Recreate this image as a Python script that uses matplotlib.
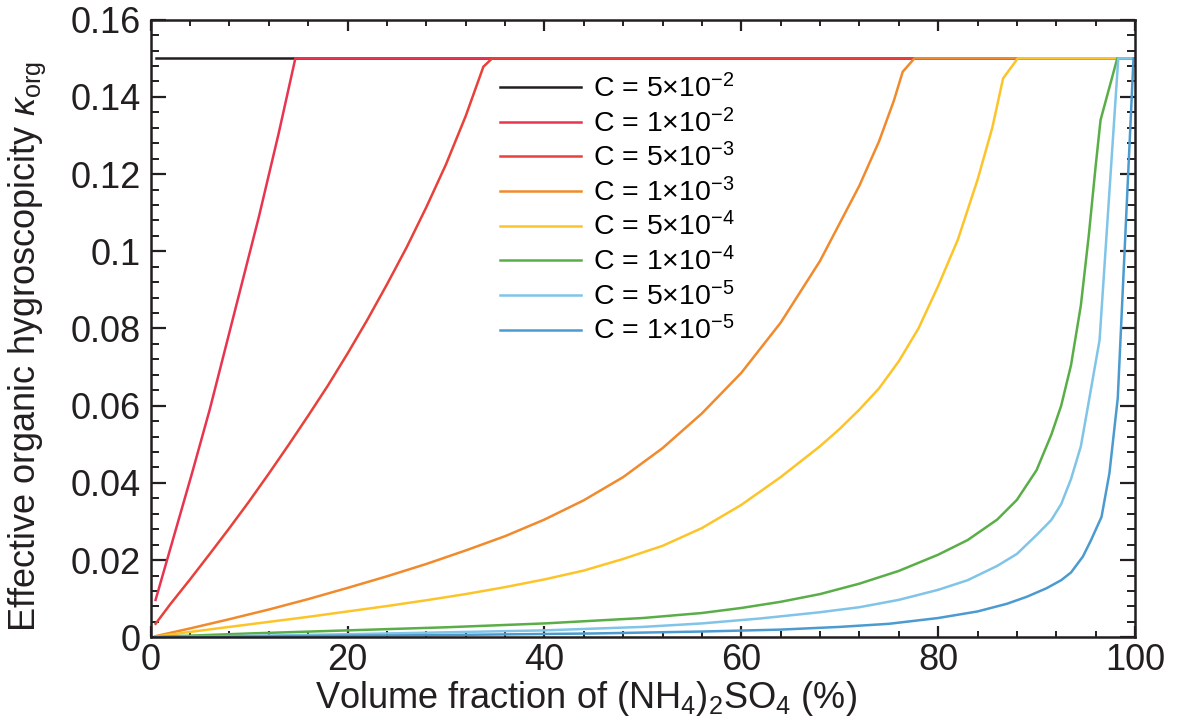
import numpy as np
import matplotlib
matplotlib.use("Agg")
import matplotlib.pyplot as plt
from matplotlib.ticker import MultipleLocator

plt.rcParams['font.family'] = ['Liberation Sans', 'DejaVu Sans']
plt.rcParams['mathtext.fontset'] = 'custom'
plt.rcParams['mathtext.rm'] = 'Liberation Sans'
plt.rcParams['mathtext.it'] = 'Liberation Sans:italic'
plt.rcParams['mathtext.bf'] = 'Liberation Sans:bold'

# kappa_org vs (NH4)2SO4 volume fraction, one curve per solubility C
labels = [r'C = 5$\times$10$^{-2}$', r'C = 1$\times$10$^{-2}$',
          r'C = 5$\times$10$^{-3}$', r'C = 1$\times$10$^{-3}$',
          r'C = 5$\times$10$^{-4}$', r'C = 1$\times$10$^{-4}$',
          r'C = 5$\times$10$^{-5}$', r'C = 1$\times$10$^{-5}$']
colors = ['#231f20', '#e8344f', '#e8413a', '#f08a2c',
          '#fdc42a', '#5aae48', '#80c4e8', '#4b9bd0']

x_5e2 = [0.5, 100]
k_5e2 = [0.15, 0.15]

x_1e2 = [0.5, 2.0, 4.2, 6.0, 7.8, 9.5, 11.0, 13.0, 14.7, 100]
k_1e2 = [0.0097, 0.023, 0.0425, 0.059, 0.077, 0.094, 0.109, 0.1305, 0.15, 0.15]

x_5e3 = [0.5, 2, 4, 6, 8, 10, 12, 14, 16, 18, 20, 22, 24, 26, 28, 30, 32,
         33.8, 34.7, 100]
k_5e3 = [0.0035, 0.0086, 0.0150, 0.0216, 0.0283, 0.0352, 0.0424, 0.0498,
         0.0574, 0.0652, 0.0735, 0.0822, 0.0914, 0.1010, 0.1114, 0.1225,
         0.1350, 0.1478, 0.15, 0.15]

x_1e3 = [0.5, 4, 8, 12, 16, 20, 24, 28, 32, 36, 40, 44, 48, 52, 56, 60, 64,
         68, 72, 74, 75.5, 76.4, 77.6, 100]
k_1e3 = [0.0003, 0.0023, 0.0047, 0.0072, 0.0099, 0.0128, 0.0158, 0.0190,
         0.0225, 0.0262, 0.0305, 0.0355, 0.0415, 0.0490, 0.0580, 0.0685,
         0.0815, 0.0975, 0.1170, 0.1285, 0.1390, 0.1465, 0.15, 0.15]

x_5e4 = [0.5, 4, 8, 12, 16, 20, 24, 28, 32, 36, 40, 44, 48, 52, 56, 60, 64,
         68, 70, 72, 74, 76, 78, 80, 82, 84, 85.5, 86.6, 88.1, 100]
k_5e4 = [0.0002, 0.0014, 0.0027, 0.0040, 0.0053, 0.0067, 0.0081, 0.0096,
         0.0112, 0.0130, 0.0150, 0.0173, 0.0203, 0.0237, 0.0283, 0.0343,
         0.0415, 0.0495, 0.0540, 0.0590, 0.0645, 0.0715, 0.0800, 0.0910,
         0.1030, 0.1185, 0.1320, 0.1448, 0.15, 0.15]

x_1e4 = [0.5, 10, 20, 30, 40, 50, 56, 60, 64, 68, 72, 76, 80, 83, 86, 88,
         90, 91.5, 92.5, 93.5, 94.5, 95.3, 96.0, 96.5, 98.2, 100]
k_1e4 = [0.0001, 0.0010, 0.0018, 0.0026, 0.0036, 0.0050, 0.0063, 0.0076,
         0.0092, 0.0112, 0.0139, 0.0172, 0.0214, 0.0252, 0.0305, 0.0356,
         0.0433, 0.0525, 0.0600, 0.0705, 0.0860, 0.1040, 0.1220, 0.1340,
         0.15, 0.15]

x_5e5 = [0.5, 10, 20, 30, 40, 50, 56, 62, 68, 72, 76, 80, 83, 86, 88, 90,
         91.5, 92.5, 93.5, 94.5, 95.3, 96.4, 98.3, 100]
k_5e5 = [0.0000, 0.0004, 0.0008, 0.0013, 0.0018, 0.0027, 0.0036, 0.0049,
         0.0065, 0.0078, 0.0097, 0.0123, 0.0148, 0.0185, 0.0216, 0.0265,
         0.0304, 0.0345, 0.0410, 0.0495, 0.0610, 0.0770, 0.15, 0.15]

x_1e5 = [0.5, 15, 30, 45, 56, 64, 70, 75, 80, 84, 87, 89, 91, 92.5, 93.5,
         94.7, 95.5, 96.6, 97.4, 98.25, 99.85, 100]
k_1e5 = [0.0000, 0.0003, 0.0006, 0.0010, 0.0015, 0.0020, 0.0027, 0.0035,
         0.0050, 0.0067, 0.0087, 0.0105, 0.0127, 0.0148, 0.0168, 0.0209,
         0.0250, 0.0312, 0.0425, 0.0620, 0.15, 0.15]

xs = [x_5e2, x_1e2, x_5e3, x_1e3, x_5e4, x_1e4, x_5e5, x_1e5]
ks = [k_5e2, k_1e2, k_5e3, k_1e3, k_5e4, k_1e4, k_5e5, k_1e5]

fig = plt.figure(figsize=(11.78, 7.23), dpi=100)
ax = fig.add_axes([0.1279, 0.1185, 0.8356, 0.8543])

for x, k, c, lab in zip(xs, ks, colors, labels):
    ax.plot(x, k, color=c, lw=1.8, label=lab)

ax.set_xlim(0, 100)
ax.set_ylim(0, 0.16)
ax.xaxis.set_minor_locator(MultipleLocator(4))
ax.yaxis.set_minor_locator(MultipleLocator(0.004))
ax.set_xticks([0, 20, 40, 60, 80, 100])
ax.set_xticklabels(['0', '20', '40', '60', '80', '100'])
ax.set_yticks([0, 0.02, 0.04, 0.06, 0.08, 0.1, 0.12, 0.14, 0.16])
ax.set_yticklabels(['0', '0.02', '0.04', '0.06', '0.08', '0.1', '0.12', '0.14', '0.16'])

ax.tick_params(axis='both', which='both', direction='in', top=True, right=True,
               color='#231f20', labelsize=26, labelcolor='#231f20')
ax.tick_params(axis='x', which='major', length=8, width=1.6, pad=4)
ax.tick_params(axis='x', which='minor', length=4, width=1.4)
ax.tick_params(axis='y', which='major', length=11, width=1.6, pad=7)
ax.tick_params(axis='y', which='minor', length=6, width=1.4)
for s in ax.spines.values():
    s.set_linewidth(1.8)
    s.set_color('#231f20')

ax.set_xlabel(r'Volume fraction of (NH$_4$)$_2$SO$_4$ (%)', fontsize=26,
              color='#231f20')
ax.set_ylabel(r'Effective organic hygroscopicity $\kappa_{\rm org}$', fontsize=26,
              color='#231f20')
ax.xaxis.set_label_coords(0.442, -0.068)
ax.yaxis.set_label_coords(-0.104, 0.47)

ax.legend(loc='upper left', bbox_to_anchor=(0.355, 0.912), frameon=False,
          fontsize=20.5, handlelength=2.85, handletextpad=0.4, labelspacing=0.19,
          borderpad=0, borderaxespad=0)

fig.savefig('out.png', dpi=100)
